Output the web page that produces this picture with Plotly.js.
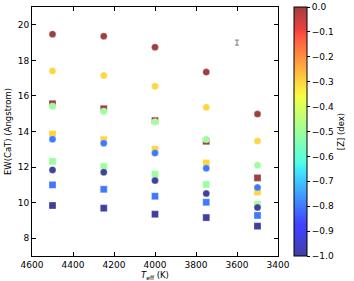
<!DOCTYPE html>
<html><head><meta charset="utf-8">
<script src="https://cdn.plot.ly/plotly-3.0.1.min.js"></script>
<style>html,body{margin:0;padding:0;background:#fff;}#plot{width:354px;height:281px;}</style>
</head><body><div id="plot"></div>
<script>
// Effective temperatures (K)
const teff = [4500, 4250, 4000, 3750, 3500];
// Metallicities [Z] (dex) for each series
const metallicities = [0.0, -0.3, -0.5, -0.8, -1.0];
// Circle series EW(CaT), one per metallicity
const circ_z00 = [19.47, 19.36, 18.74, 17.34, 14.98];
const circ_z03 = [17.40, 17.15, 16.54, 15.36, 13.46];
const circ_z05 = [15.41, 15.13, 14.53, 13.56, 12.10];
const circ_z08 = [13.56, 13.34, 12.79, 11.93, 10.85];
const circ_z10 = [11.84, 11.71, 11.24, 10.51, 9.73];
// Square series EW(CaT), one per metallicity
const sq_z00 = [15.56, 15.28, 14.61, 13.45, 11.39];
const sq_z03 = [13.86, 13.54, 13.00, 12.23, 10.60];
const sq_z05 = [12.32, 12.03, 11.60, 11.02, 9.91];
const sq_z08 = [11.00, 10.75, 10.36, 10.02, 9.28];
const sq_z10 = [9.84, 9.69, 9.35, 9.16, 8.68];
// Typical error bar
const errX = [3600];
const errY = [19.0];
const errSize = [0.14];

const circles = [circ_z00, circ_z03, circ_z05, circ_z08, circ_z10];
const squares = [sq_z00, sq_z03, sq_z05, sq_z08, sq_z10];

// matplotlib jet, blended with white at alpha 0.75
function blend(r,g,b){const a=0.75;return 'rgb('+Math.round(a*r*255+(1-a)*255)+','+Math.round(a*g*255+(1-a)*255)+','+Math.round(a*b*255+(1-a)*255)+')';}
const jetStops = [
 [0,0,0,0.5],[0.11,0,0,1],[0.125,0,0,1],[0.34,0,0.86,1],[0.35,0,0.9,0.97],[0.375,0.08,1,0.86],
 [0.5,0.48,1,0.48],[0.64,0.94,1,0.03],[0.65,0.97,0.96,0],[0.66,1,0.92,0],[0.7,1,0.78,0],
 [0.89,1,0.08,0],[0.91,0.91,0,0],[1,0.5,0,0]];
const jet = jetStops.map(s=>[s[0], blend(s[1],s[2],s[3])]);

function build(series){
  const x=[],y=[],c=[];
  series.forEach((vals,i)=>{vals.forEach((v,j)=>{x.push(teff[j]);y.push(v);c.push(metallicities[i]);});});
  return {x,y,c};
}
const S = build(squares), C = build(circles);

const font = {family:'DejaVu Sans, sans-serif', size:9, color:'#000'};

const traces = [
 {type:'scatter', mode:'markers', x:S.x, y:S.y, name:'squares',
  marker:{symbol:'square', size:7, color:S.c, colorscale:jet, cmin:-1, cmax:0, showscale:false,
          line:{width:0.5, color:'rgba(255,255,255,0.6)'}}, hoverinfo:'x+y'},
 {type:'scatter', mode:'markers', x:C.x, y:C.y, name:'circles',
  marker:{symbol:'circle', size:7, color:C.c, colorscale:jet, cmin:-1, cmax:0, showscale:true,
          line:{width:0.5, color:'rgba(255,255,255,0.6)'},
          colorbar:{x:1.066, xanchor:'left', xref:'paper', y:0.5, yanchor:'middle', len:1, lenmode:'fraction',
            thickness:13, thicknessmode:'pixels', outlinecolor:'#000', outlinewidth:1,
            ticks:'outside', ticklen:3, tickcolor:'#000', dtick:0.1, tick0:0, tickformat:'.1f',
            tickfont:font, xpad:0, ypad:0,
            title:{text:'[Z] (dex)', side:'right', font:{family:font.family, size:8.5, color:'#000'}}}},
  hoverinfo:'x+y'},
 {type:'scatter', mode:'markers', x:errX, y:errY, name:'error',
  marker:{size:1, color:'rgba(0,0,0,0)'},
  error_y:{type:'data', array:errSize, visible:true, color:'#7a7a7a', thickness:1, width:2}, hoverinfo:'skip'}
];

const layout = {
 width:354, height:281, showlegend:false,
 margin:{l:32, r:66, t:7, b:25, pad:0},
 paper_bgcolor:'#fff', plot_bgcolor:'#fff', font:font,
 xaxis:{range:[4600,3400], tickvals:[4600,4400,4200,4000,3800,3600,3400], showgrid:false, zeroline:false,
   showline:true, linecolor:'#000', linewidth:1, mirror:'allticks', ticks:'inside', ticklen:4, tickcolor:'#000',
   tickfont:font, title:{text:'<i>T</i><sub>eff</sub> (K)', font:{family:font.family, size:8.5}, standoff:2}},
 yaxis:{range:[7,21], tickvals:[8,10,12,14,16,18,20], showgrid:false, zeroline:false,
   showline:true, linecolor:'#000', linewidth:1, mirror:'allticks', ticks:'inside', ticklen:4, tickcolor:'#000',
   tickfont:font, title:{text:'EW(CaT) (Angstrom)', font:{family:font.family, size:8.5}, standoff:4}}
};
Plotly.newPlot('plot', traces, layout, {staticPlot:true, displayModeBar:false});
</script></body></html>
